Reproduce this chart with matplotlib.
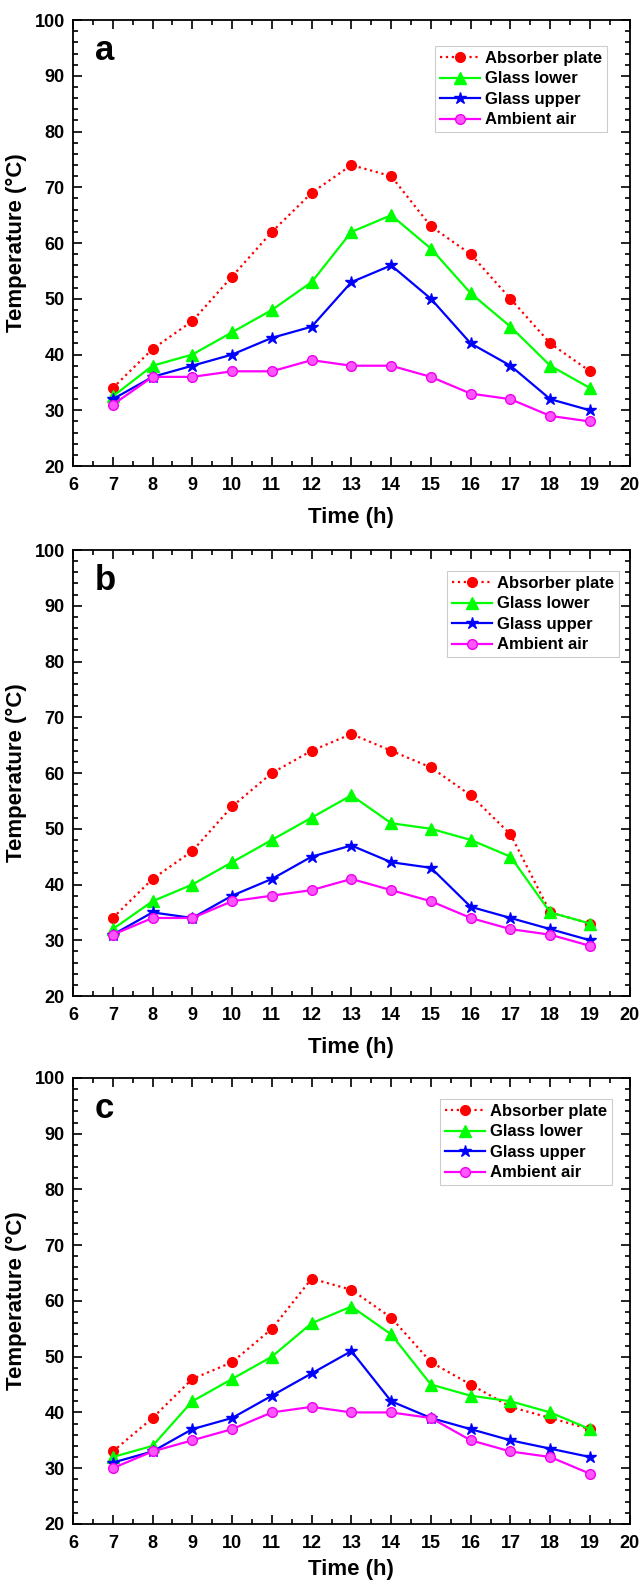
import matplotlib.pyplot as plt
from matplotlib.ticker import MultipleLocator

plt.rcParams['font.family'] = ['Liberation Sans', 'DejaVu Sans']
plt.rcParams['font.weight'] = 'bold'

# time of day (h)
hours = [7, 8, 9, 10, 11, 12, 13, 14, 15, 16, 17, 18, 19]

# panel a
absorber_a = [34, 41, 46, 54, 62, 69, 74, 72, 63, 58, 50, 42, 37]
glass_low_a = [32.5, 38, 40, 44, 48, 53, 62, 65, 59, 51, 45, 38, 34]
glass_up_a = [32, 36, 38, 40, 43, 45, 53, 56, 50, 42, 38, 32, 30]
ambient_a = [31, 36, 36, 37, 37, 39, 38, 38, 36, 33, 32, 29, 28]

# panel b
absorber_b = [34, 41, 46, 54, 60, 64, 67, 64, 61, 56, 49, 35, 33]
glass_low_b = [32, 37, 40, 44, 48, 52, 56, 51, 50, 48, 45, 35, 33]
glass_up_b = [31, 35, 34, 38, 41, 45, 47, 44, 43, 36, 34, 32, 30]
ambient_b = [31, 34, 34, 37, 38, 39, 41, 39, 37, 34, 32, 31, 29]

# panel c
absorber_c = [33, 39, 46, 49, 55, 64, 62, 57, 49, 45, 41, 39, 37]
glass_low_c = [32, 34, 42, 46, 50, 56, 59, 54, 45, 43, 42, 40, 37]
glass_up_c = [31, 33, 37, 39, 43, 47, 51, 42, 39, 37, 35, 33.5, 32]
ambient_c = [30, 33, 35, 37, 40, 41, 40, 40, 39, 35, 33, 32, 29]

panels = [
    ('a', absorber_a, glass_low_a, glass_up_a, ambient_a),
    ('b', absorber_b, glass_low_b, glass_up_b, ambient_b),
    ('c', absorber_c, glass_low_c, glass_up_c, ambient_c),
]

fig = plt.figure(figsize=(6.43, 15.81), dpi=100)
bottoms = [0.7052, 0.370, 0.0361]
# legend anchor per panel (axes fraction)
leg_pos = [(0.650, 0.942), (0.671, 0.953), (0.659, 0.953)]
xlab_pad = [9, 9, 5]

for (tag, ab, gl, gu, amb), b, lp, xp in zip(panels, bottoms, leg_pos, xlab_pad):
    ax = fig.add_axes([0.1135, b, 0.866, 0.2821])

    ax.plot(hours, ab, color='#ff0000', linestyle=':', linewidth=1.6,
            marker='o', markersize=7, label='Absorber plate')
    ax.plot(hours, gl, color='#00ff00', linewidth=1.6,
            marker='^', markersize=8, label='Glass lower')
    ax.plot(hours, gu, color='#0000ff', linewidth=1.6,
            marker='*', markersize=9, label='Glass upper')
    ax.plot(hours, amb, color='#ff00ff', linewidth=1.6,
            marker='o', markersize=7, markerfacecolor='#ff55ff',
            markeredgecolor='#ee00ee', label='Ambient air')

    ax.set_xlim(6, 20)
    ax.set_ylim(20, 100)
    ax.xaxis.set_major_locator(MultipleLocator(1))
    ax.xaxis.set_minor_locator(MultipleLocator(0.5))
    ax.yaxis.set_major_locator(MultipleLocator(10))
    ax.yaxis.set_minor_locator(MultipleLocator(2))
    ax.tick_params(which='both', direction='in', top=True, right=True,
                   width=1.2)
    ax.tick_params(which='major', length=6.5, labelsize=13)
    ax.tick_params(axis='x', which='major', pad=8)
    ax.tick_params(axis='y', which='major', pad=6)
    ax.tick_params(which='minor', length=3.5)
    for s in ax.spines.values():
        s.set_linewidth(1.3)

    ax.set_xlabel('Time (h)', fontsize=16, fontweight='bold', labelpad=xp)
    ax.set_ylabel('Temperature (°C)', fontsize=16, fontweight='bold', labelpad=5)
    ax.text(6.55, 94.5, tag, fontsize=25, fontweight='bold', va='center')

    leg = ax.legend(loc='upper left', bbox_to_anchor=lp,
                    borderaxespad=0, fontsize=12, handlelength=2.4,
                    labelspacing=0.33, handletextpad=0.3, borderpad=0.3,
                    fancybox=False, framealpha=1, edgecolor='#cccccc')
    leg.get_frame().set_linewidth(0.8)

plt.savefig('out.png', dpi=100)
